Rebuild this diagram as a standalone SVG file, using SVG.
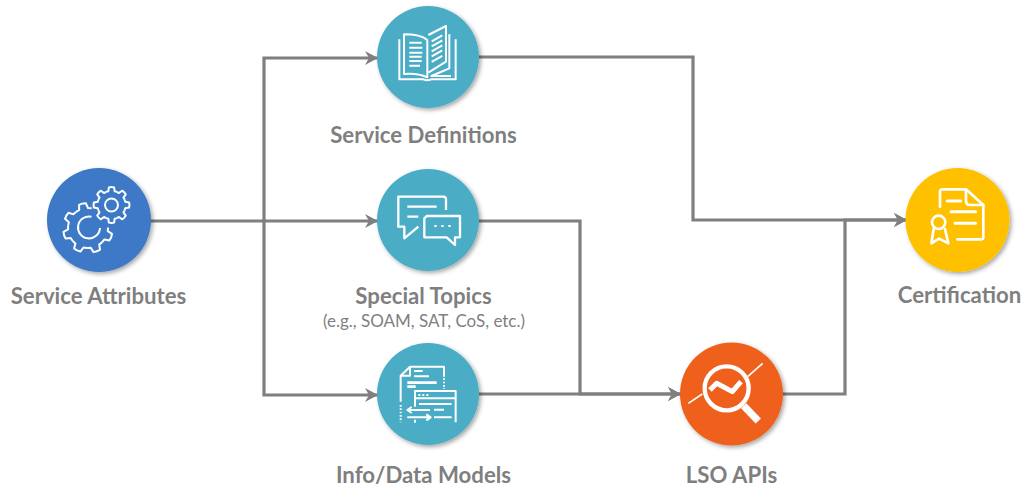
<svg xmlns="http://www.w3.org/2000/svg" xmlns:xlink="http://www.w3.org/1999/xlink" width="1025" height="489" viewBox="0 0 1025 489">
<style>
.c{filter:url(#sh)}
.l{font-family:"Lato","Open Sans","Liberation Sans",sans-serif;font-weight:700;font-size:22.200px;fill:#7f7f7f;text-anchor:middle}
.s{font-family:"Lato","Open Sans","Liberation Sans",sans-serif;font-size:17px;fill:#7f7f7f;text-anchor:middle}
.i{fill:none;stroke:#fff;stroke-width:2;stroke-linejoin:round}
.z{fill:none;stroke:#fff;stroke-width:6;stroke-linecap:butt;stroke-linejoin:round}
.w{stroke-linecap:round;stroke-width:8}
.k{fill:none;stroke:#7f7f7f;stroke-width:3.200;stroke-linejoin:miter}
</style>
<defs>
<filter id="sh" x="-20%" y="-20%" width="140%" height="140%"><feDropShadow dx="2" dy="2" stdDeviation="2" flood-color="#000" flood-opacity=".35"/></filter>
<marker id="a" markerUnits="userSpaceOnUse" markerWidth="16" markerHeight="16" refX="14" refY="8" orient="auto"><path d="M1,1 L14,8 L1,15 L5,8Z" fill="#7f7f7f"/></marker>
<path id="t1" d="M-5.400,-13.100 L-3.200,-13.700 L-2.600,-17.600 Q0,-18.400 2.600,-17.600 L3.200,-13.700 L5.400,-13.100" class="i"/>
<path id="t2" d="M-8,-18.400 L-4.500,-19.500 L-3.500,-24.500 Q0,-25.500 3.500,-24.500 L4.500,-19.500 L8,-18.400" class="i"/>
</defs>
<g id="connectors" class="k">
<path d="M151,221 H378" marker-end="url(#a)"/>
<path d="M264,221 V58 H378" marker-end="url(#a)"/>
<path d="M264,221 V395 H378" marker-end="url(#a)"/>
<path d="M479,57 H693 V220 H907" marker-end="url(#a)"/>
<path d="M479,221 H580 V394 H681" marker-end="url(#a)"/>
<path d="M479,394 H681" marker-end="url(#a)"/>
<path d="M783,394 H845 V220 H907" marker-end="url(#a)"/>
</g>
<g id="service-attributes">
<circle class="c" cx="99" cy="220" r="52" fill="#3c79c6"/>
<g transform="translate(111.500 205)"><use xlink:href="#t1"/><use xlink:href="#t1" transform="rotate(45)"/><use xlink:href="#t1" transform="rotate(90)"/><use xlink:href="#t1" transform="rotate(135)"/><use xlink:href="#t1" transform="rotate(180)"/><use xlink:href="#t1" transform="rotate(225)"/><use xlink:href="#t1" transform="rotate(270)"/><use xlink:href="#t1" transform="rotate(315)"/><circle r="6.500" class="i"/></g>
<g transform="translate(88 228)"><use xlink:href="#t2" transform="rotate(-13)"/><use xlink:href="#t2" transform="rotate(-60)"/><use xlink:href="#t2" transform="rotate(-107)"/><use xlink:href="#t2" transform="rotate(-154)"/><use xlink:href="#t2" transform="rotate(-201)"/><use xlink:href="#t2" transform="rotate(-248)"/><path d="M3.500,-11.300 A11,11 0 1 0 12,0" class="i"/></g>
<text class="l" x="98.500" y="304">Service Attributes</text>
</g>
<g id="service-definitions">
<circle class="c" cx="428" cy="57" r="51" fill="#4bacc6"/>
<g transform="translate(365 0) scale(.3333)" class="z">
<path d="M187,232 V120 C170,106 145,103 117,103 V222 C145,220 170,224 187,232Z"/>
<path d="M190,218 L243,185 V78 L190,105"/>
<path d="M103,118 V238 H175 Q187,243 199,238 H272 V118"/>
<path d="M253,103 V205 L199,228 H258"/>
<path d="M133,128 H170 M133,143 H172 M133,158 H172 M133,170 H170 M133,183 H170 M133,197 H165"/>
<path d="M200,124 L232,106 M200,139 L232,121 M200,154 L232,136 M200,169 L232,151 M200,186 L232,168"/>
</g>
<text class="l" x="423.500" y="143">Service Definitions</text>
</g>
<g id="special-topics">
<circle class="c" cx="428" cy="220" r="51" fill="#4bacc6"/>
<g transform="translate(365 160) scale(.3333)" class="z">
<path d="M160,200 L118,235 V200 H100 V110 H235 Q243,110 243,118 V150" style="stroke-width:7"/>
<path d="M127,140 H215 M127,170 H160" style="stroke-width:7"/>
<path d="M185,168 H285 V232 H270 V255 L245,232 H178 V175Z" style="stroke-width:7"/>
<path d="M208,198 h7 M229,198 h7 M250,198 h7" style="stroke-width:6"/>
</g>
<text class="l" x="423.500" y="304">Special Topics</text>
<text class="s" x="424" y="327">(e.g., SOAM, SAT, CoS, etc.)</text>
</g>
<g id="info-data-models">
<circle class="c" cx="428" cy="394" r="51" fill="#4bacc6"/>
<g transform="translate(365 335) scale(.3333)" class="z">
<path d="M107,200 V122 L135,95 H237 V125 M135,95 V122 H107"/>
<path d="M107,210 V262 M237,130 V162" stroke-dasharray="5 5"/>
<path d="M147,108 H173 M147,124 H192"/>
<path d="M127,143 H215 M127,155 H152" style="stroke-width:8"/>
<path d="M150,215 V168 H272 V262 M150,190 H272 M162,207 H260"/>
<path d="M160,180 h6 M172,180 h6 M184,180 h6"/>
<path d="M130,225 H195 M140,216 L127,225 L140,234 M207,224 H237 M127,247 H192 M184,238 L197,247 L184,256 M207,247 H260 M150,254 V263"/>
</g>
<text class="l" x="423.500" y="483">Info/Data Models</text>
</g>
<g id="lso-apis">
<circle class="c" cx="731.500" cy="394" r="51.500" fill="#ee611c"/>
<g transform="translate(665 335) scale(.3333)" class="z">
<circle cx="185" cy="160" r="66" style="stroke-width:13"/>
<path d="M70,205 L112,177 M248,125 L293,85" style="stroke-width:5"/>
<path d="M135,165 L155,145 L202,170 L228,140" style="stroke-width:15"/>
<path d="M236,212 L280,258" style="stroke-width:22"/>
</g>
<text class="l" x="731.500" y="483">LSO APIs</text>
</g>
<g id="certification">
<circle class="c" cx="957.500" cy="220" r="52" fill="#ffc000"/>
<g transform="translate(890 160) scale(.3333)" class="z w">
<path d="M150,140 V95 Q150,88 157,88 H228 L280,135 V232 Q280,238 274,238 H202"/>
<path d="M228,90 V122 Q228,135 240,135 H280" style="stroke-width:8"/>
<path d="M172,123 H212 M183,155 H257 M195,190 H257" style="stroke-width:9"/>
<circle cx="146" cy="187" r="20" style="stroke-width:8"/>
<path d="M131,207 L124,250 L147,236 L175,250 L165,207" style="stroke-width:8"/>
</g>
<text class="l" x="959.500" y="303">Certification</text>
</g>
</svg>
